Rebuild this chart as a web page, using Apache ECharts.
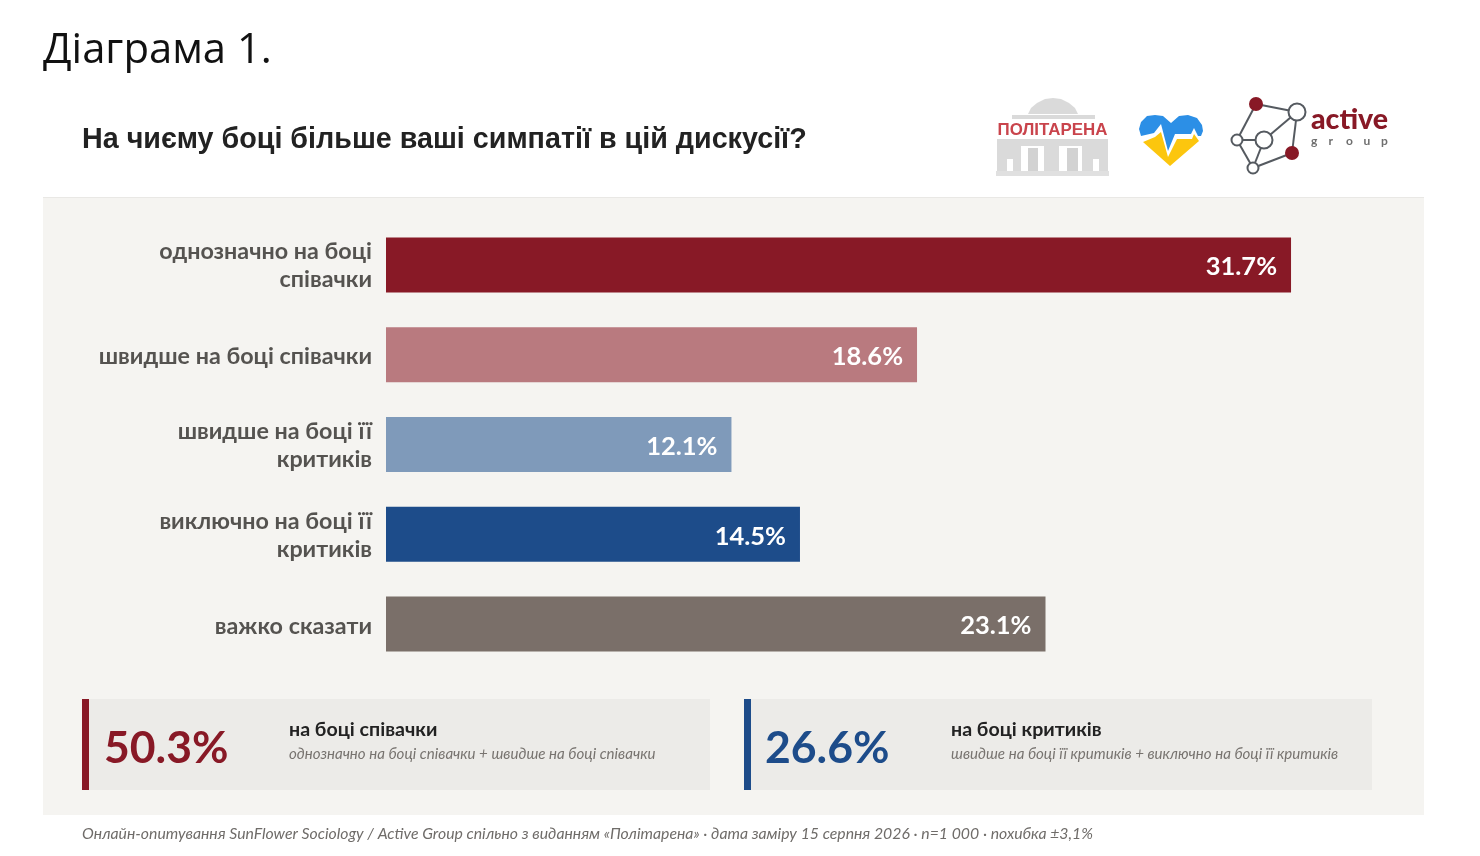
<!DOCTYPE html>
<html><head><meta charset="utf-8">
<style>html,body{margin:0;padding:0;background:#fff}#c{width:1480px;height:856px}</style>
<script src="https://cdn.jsdelivr.net/npm/echarts@6/dist/echarts.min.js"></script>
</head><body><div id="c"></div>
<script>
const categories = ['однозначно на боці\nспівачки','швидше на боці співачки','швидше на боці її\nкритиків','виключно на боці її\nкритиків','важко сказати'];
const values = [31.7,18.6,12.1,14.5,23.1];
const barColors = ['#881926','#b97a7f','#7f9aba','#1d4c8a','#7a6f69'];
const heading = 'Діаграма 1.';
const question = 'На чиєму боці більше ваші симпатії в цій дискусії?';
const sourceNote = 'Онлайн-опитування SunFlower Sociology / Active Group спільно з виданням «Політарена» · дата заміру 15 серпня 2026 · n=1 000 · похибка ±3,1%';
const groupLetters = ['g','r','o','u','p'];

const LATO = 'Lato';
function txt(x,y,text,size,color,opt){
  return {type:'text',x,y,silent:true,z:10,style:Object.assign({text,fontSize:size,fill:color,fontFamily:LATO,verticalAlign:'middle'},opt||{})};
}
function rect(x,y,w,h,fill,z){return {type:'rect',silent:true,z:z||1,shape:{x,y,width:w,height:h},style:{fill}};}
function poly(points,fill){return {type:'polygon',silent:true,z:3,shape:{points},style:{fill}};}
function line(a,b){return {type:'line',silent:true,z:5,shape:{x1:a[0],y1:a[1],x2:b[0],y2:b[1]},style:{stroke:'#555a60',lineWidth:2}};}
function node(p,r,fill){return {type:'circle',silent:true,z:6,shape:{cx:p[0],cy:p[1],r},style:{fill,stroke:fill==='#fff'?'#555a60':fill,lineWidth:2}};}

const red1=[1256,104],big=[1297,112],left=[1237,140],mid=[1264,140],red2=[1292,153],bot=[1253,168];
const G='#dadada';
const graphics=[
  rect(43,198,1381,617,'#f5f4f1',0),
  rect(43,197,1381,1,'#e9e8e5',0),
  txt(43,51,heading,41.8,'#111',{fontFamily:'Open Sans'}),
  txt(82,140,question,28.7,'#222',{fontFamily:'Liberation Sans',fontWeight:'bold'}),
  rect(82,699,628,91,'#ecebe8'),rect(82,699,7,91,'#881926',2),
  txt(104,749,'50.3%',44.5,'#881926',{fontWeight:'bold'}),
  txt(289,730,'на боці співачки',19.6,'#222',{fontWeight:'bold'}),
  txt(289,754,'однозначно на боці співачки + швидше на боці співачки',15.1,'#77736f',{fontStyle:'italic'}),
  rect(744,699,628,91,'#ecebe8'),rect(744,699,7,91,'#1d4c8a',2),
  txt(765,749,'26.6%',44.5,'#1d4c8a',{fontWeight:'bold'}),
  txt(951,730,'на боці критиків',19.6,'#222',{fontWeight:'bold'}),
  txt(951,754,'швидше на боці її критиків + виключно на боці її критиків',15.1,'#77736f',{fontStyle:'italic'}),
  txt(82,834,sourceNote,15.8,'#6f6c69',{fontStyle:'italic'}),
  // Politarena logo
  poly([[1028,114],[1031,108],[1037,103],[1045,99],[1053,98],[1061,99],[1069,103],[1075,108],[1078,114]],G),
  rect(1012,115,83,4,G,3),
  rect(997,139,111,32,G,3),
  rect(1007,159,6,12,'#fff',3),
  rect(1021,146,23,25,'#fff',3),
  rect(1028,148,10,23,'#d2d2d2',3),
  rect(1059,146,23,25,'#fff',3),
  rect(1067,148,11,23,'#d2d2d2',3),
  rect(1093,159,6,12,'#fff',3),
  rect(996,171,113,5,'#e0e0e0',3),
  txt(1052.5,130,'ПОЛІТАРЕНА',16.9,'#c9444c',{fontFamily:'Liberation Sans',fontWeight:'bold',align:'center'}),
  // heart logo
  poly([[1141,136],[1139,129],[1141,122],[1147,116],[1155,115],[1163,116],[1171,123],[1179,116],[1188,115],[1197,118],[1202,125],[1203,131],[1201,136],[1198,136],[1194,128],[1191,134],[1175,134],[1168,151],[1161,124],[1154,133]],'#2c8fe6'),
  poly([[1143,142],[1155,137],[1161,132],[1168,157],[1177,139],[1192,139],[1194,134],[1199,141],[1170,166]],'#fcc60e'),
  // active group logo
  line(red1,big),line(red1,left),line(big,mid),line(big,red2),line(left,mid),line(left,bot),line(mid,bot),line(bot,red2),
  node(red1,6,'#881926'),node(big,8.5,'#fff'),node(left,5.5,'#fff'),node(mid,8.5,'#fff'),node(red2,6,'#881926'),node(bot,5.5,'#fff'),
  txt(1311,120,'active',28.5,'#881926',{fontWeight:900}),
  ...groupLetters.map((ch,i)=>txt(1311+i*17.5,141,ch,12,'#6f6f6f',{fontWeight:'bold'}))
];

const labelStyle={fontFamily:LATO,fontSize:23.3,fontWeight:'bold',color:'#555350',lineHeight:30,align:'right'};
const chart=echarts.init(document.getElementById('c'),null,{renderer:'canvas'});
chart.setOption({
  animation:false,
  backgroundColor:'#fff',
  grid:{left:386,top:220,width:999.25,height:449,containLabel:false},
  xAxis:{type:'value',min:0,max:35,show:false},
  yAxis:{type:'category',inverse:true,data:categories,z:6,
    axisLine:{show:false},axisTick:{show:false},
    axisLabel:{margin:14,align:'right',
      formatter:v=>v.split('\n').map((s,i)=>(i===0?'{a|':'{b|')+s+'}').join('\n'),
      rich:{a:Object.assign({padding:[4,0,0,0]},labelStyle),b:labelStyle}}},
  series:[{type:'bar',barWidth:55,z:4,
    data:values.map((v,i)=>({value:v,itemStyle:{color:barColors[i]}})),
    label:{show:true,position:'insideRight',distance:14,offset:[0,2],formatter:p=>p.value.toFixed(1)+'%',
      fontFamily:LATO,fontSize:25.5,fontWeight:'bold',color:'#fff'}}],
  graphic:{elements:graphics}
});
</script></body></html>
